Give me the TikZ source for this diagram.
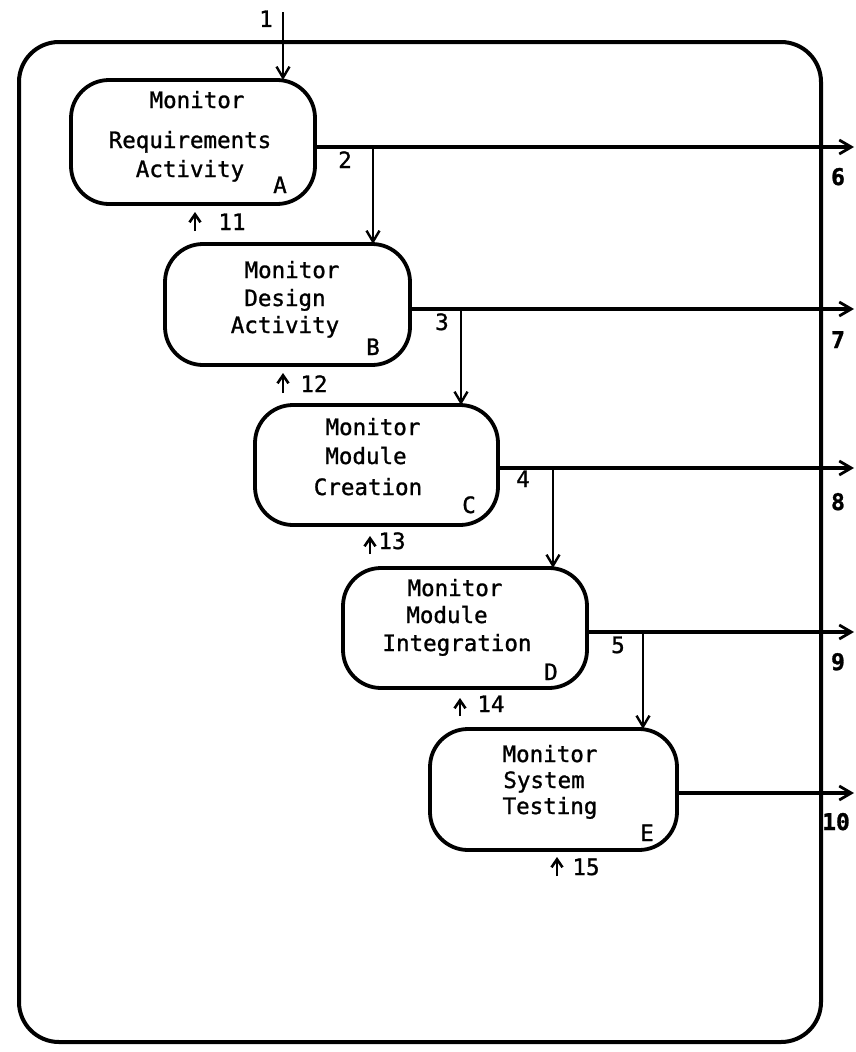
\documentclass[tikz,border=0pt]{standalone}
\usepackage{fontspec}
\setmonofont[FakeBold=1.2]{DejaVu Sans Mono}
\usetikzlibrary{arrows.meta}
\begin{document}
\begin{tikzpicture}[x=1pt,y=-1pt,
  every node/.style={inner sep=0pt, outer sep=0pt},
  txt/.style={font=\ttfamily\fontsize{22.5}{28}\selectfont, anchor=base},
  num/.style={font=\ttfamily\fontsize{22.5}{28}\selectfont, anchor=base},
  outnum/.style={font=\ttfamily\bfseries\fontsize{23}{28}\selectfont, anchor=base},
  proc/.style={draw, line width=3.8pt, rounded corners=38pt},
  frame/.style={draw, line width=4pt, rounded corners=40pt},
  conn/.style={line width=3.2pt, -{Straight Barb[length=12pt,width=14pt,line width=2.8pt]}},
  branch/.style={line width=2.4pt, -{Straight Barb[length=11pt,width=13pt,line width=2.4pt]}},
  ctl/.style={line width=2.8pt, -{Straight Barb[length=8pt,width=11pt,line width=2.6pt]}}]
\useasboundingbox (0,0) rectangle (856,1052);

% outer frame
\node[frame, minimum width=802pt, minimum height=1000pt] (F) at (420,542) {};

% process boxes
\node[proc, minimum width=244pt, minimum height=124pt] (A) at (193,142) {};
\node[proc, minimum width=245pt, minimum height=121pt] (B) at (287.5,304.5) {};
\node[proc, minimum width=243pt, minimum height=120pt] (C) at (376.5,465) {};
\node[proc, minimum width=244pt, minimum height=120pt] (D) at (465,628) {};
\node[proc, minimum width=247pt, minimum height=121pt] (E) at (553.5,789.5) {};

% box texts
\node[txt] (A1) at (197,108) {Monitor};
\node[txt] (A2) at (190,148) {Requirements};
\node[txt] (A3) at (190,177) {Activity};
\node[txt] (AL) at (280,193) {A};

\node[txt] (B1) at (292,278) {Monitor};
\node[txt] (B2) at (285,306) {Design};
\node[txt] (B3) at (285,333) {Activity};
\node[txt] (BL) at (373,355) {B};

\node[txt] (C1) at (373,435) {Monitor};
\node[txt] (C2) at (366,464) {Module};
\node[txt] (C3) at (368,495) {Creation};
\node[txt] (CL) at (469,513) {C};

\node[txt] (D1) at (455,596) {Monitor};
\node[txt] (D2) at (447,623) {Module};
\node[txt] (D3) at (457,651) {Integration};
\node[txt] (DL) at (551,680) {D};

\node[txt] (E1) at (550,762) {Monitor};
\node[txt] (E2) at (544,788) {System};
\node[txt] (E3) at (550,814) {Testing};
\node[txt] (EL) at (647,841) {E};

% input 1
\coordinate (i1) at (283,12);
\draw[branch] (i1) -- (i1 |- A.north);
\node[num] (n1) at (266,27) {1};

% outputs to right edge
\coordinate (o6) at (854,147);
\coordinate (o7) at (854,309);
\coordinate (o8) at (854,468);
\coordinate (o9) at (854,632);
\coordinate (o10) at (854,793);
\draw[conn] (A.east |- o6) -- (o6);
\draw[conn] (B.east |- o7) -- (o7);
\draw[conn] (C.east |- o8) -- (o8);
\draw[conn] (D.east |- o9) -- (o9);
\draw[conn] (E.east |- o10) -- (o10);
\node[outnum] (n6) at (838,185) {6};
\node[outnum] (n7) at (838,348) {7};
\node[outnum] (n8) at (838,510) {8};
\node[outnum] (n9) at (838,670) {9};
\node[outnum] (n10) at (836,830) {10};

% branches down to next box
\coordinate (b2) at (373,147);
\coordinate (b3) at (461,309);
\coordinate (b4) at (553,468);
\coordinate (b5) at (643,632);
\draw[branch] (b2) -- (b2 |- B.north);
\draw[branch] (b3) -- (b3 |- C.north);
\draw[branch] (b4) -- (b4 |- D.north);
\draw[branch] (b5) -- (b5 |- E.north);
\node[num] (n2) at (345,168) {2};
\node[num] (n3) at (442,330) {3};
\node[num] (n4) at (523,487) {4};
\node[num] (n5) at (618,653) {5};

% control arrows from below
\coordinate (c11s) at (195,231);
\coordinate (c11e) at (195,212);
\coordinate (c12s) at (283,393);
\coordinate (c12e) at (283,373);
\coordinate (c13s) at (370,554);
\coordinate (c13e) at (370,536);
\coordinate (c14s) at (460,716);
\coordinate (c14e) at (460,698);
\coordinate (c15s) at (557,876);
\coordinate (c15e) at (557,857);
\draw[ctl] (c11s) -- (c11e);
\draw[ctl] (c12s) -- (c12e);
\draw[ctl] (c13s) -- (c13e);
\draw[ctl] (c14s) -- (c14e);
\draw[ctl] (c15s) -- (c15e);
\node[num] (n11) at (232,230) {11};
\node[num] (n12) at (314,392) {12};
\node[num] (n13) at (392,549) {13};
\node[num] (n14) at (491,712) {14};
\node[num] (n15) at (586,875) {15};
\end{tikzpicture}
\end{document}
